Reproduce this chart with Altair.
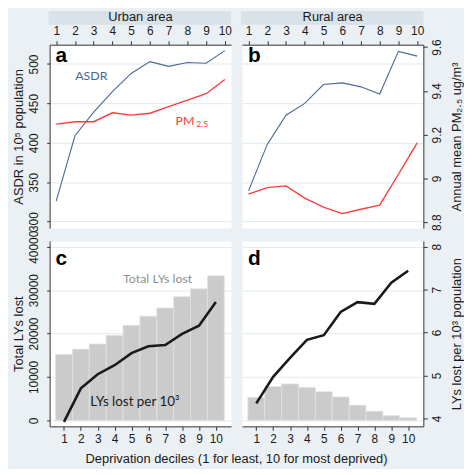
import altair as alt
import pandas as pd

# ---------------- data ----------------
deciles = [1, 2, 3, 4, 5, 6, 7, 8, 9, 10]
urban_asdr = [326, 409, 439, 465, 488, 503, 497, 502, 501, 517]
rural_asdr = [339, 398, 435, 450, 474, 476, 471, 462, 516, 510]
urban_pm25 = [9.248, 9.259, 9.259, 9.300, 9.289, 9.298, 9.328, 9.358, 9.387, 9.452]
rural_pm25 = [8.928, 8.958, 8.966, 8.910, 8.869, 8.839, 8.859, 8.878, 9.019, 9.162]
urban_total_lys = [15200, 16400, 17600, 19600, 21900, 24000, 25900, 28500, 30300, 33300]
rural_total_lys = [5300, 7800, 8400, 7600, 6600, 5400, 3500, 2100, 1100, 600]
urban_lys_rate = [3.92, 4.70, 5.03, 5.24, 5.52, 5.68, 5.71, 5.97, 6.16, 6.71]
rural_lys_rate = [4.35, 4.97, 5.41, 5.83, 5.94, 6.48, 6.71, 6.67, 7.16, 7.44]

asdr_ticks = [300, 350, 400, 450, 500]
pm_ticks = [8.8, 9.0, 9.2, 9.4, 9.6]
total_ticks = [0, 10000, 20000, 30000, 40000]
rate_ticks = [4, 5, 6, 7, 8]

area_names = ["Urban area", "Rural area"]
panel_letters = ["a", "b", "c", "d"]
x_title = "Deprivation deciles (1 for least, 10 for most deprived)"

# ---------------- styling ----------------
FONT = "Liberation Sans"
ANN_FONT = "Lato"
INK = "#1a1a1a"
BG = "#eaf0f3"
STRIP = "#d9e2e8"
GRID = "#e1e9ee"
BLUE = "#4a6893"
RED = "#ff3a3a"
BAR = "#cbcbcb"

W = 183
H_TOP = 185
H_BOT = 187
GAP_X = 11
TOP_X = [0.65, 10.33]
BOT_X = [0.15, 10.9]
ASDR_DOM = [291.8, 524.5]
PM_DOM = [8.773, 9.611]
TOT_DOM = [-1370, 41325]
RATE_DOM = [3.815, 8.134]


def frame(asdr, pm, total, rate):
    return pd.DataFrame({
        "decile": deciles,
        "lo": [d - 0.5 for d in deciles],
        "hi": [d + 0.5 for d in deciles],
        "asdr": asdr,
        "pm": pm,
        "total": total,
        "rate": rate,
    })


df_u = frame(urban_asdr, urban_pm25, urban_total_lys, urban_lys_rate)
df_r = frame(rural_asdr, rural_pm25, rural_total_lys, rural_lys_rate)


def left_axis(ticks, fmt, title, visible):
    if visible:
        return alt.Axis(orient="left", values=ticks, format=fmt, title=title,
                        grid=True, gridColor=GRID, labelAngle=270,
                        labelAlign="center", labelBaseline="bottom",
                        tickSize=3, labelPadding=6, minExtent=21, maxExtent=21,
                        titlePadding=3)
    return alt.Axis(orient="left", values=ticks, grid=True, gridColor=GRID,
                    labels=False, ticks=False, domain=False, title=None,
                    minExtent=0, maxExtent=0)


def right_axis(ticks, title):
    return alt.Axis(orient="right", values=ticks, format="~g", title=title,
                    grid=False, labelAngle=270, labelAlign="center",
                    labelBaseline="top", tickSize=4, labelPadding=4,
                    minExtent=21, maxExtent=21, titlePadding=6,
                    titleAngle=270, titleBaseline="top")


def text_layer(label, x, y, color, size, font=ANN_FONT, weight="normal",
               align="center"):
    return alt.Chart(pd.DataFrame({"t": [label]})).mark_text(
        font=font, fontSize=size, fontWeight=weight, color=color,
        align=align, baseline="alphabetic"
    ).encode(x=alt.value(x), y=alt.value(y), text="t:N")


def top_panel(df, strip_text, letter, left_vis, right_vis, notes):
    xs = alt.Scale(domain=TOP_X, nice=False, zero=False)
    xenc = alt.X("decile:Q", scale=xs,
                 axis=alt.Axis(orient="top", values=deciles, format="d",
                               title=None, grid=False, tickSize=4,
                               labelPadding=3))
    strip_bg = alt.Chart(pd.DataFrame({"t": [strip_text]})).mark_rect(
        color=STRIP).encode(x=alt.value(-1), x2=alt.value(W),
                            y=alt.value(-34), y2=alt.value(-20))
    strip_tx = text_layer(strip_text, W / 2, -23.5, INK, 13, font=FONT)
    asdr = alt.Chart(df).mark_line(color=BLUE, strokeWidth=1.1).encode(
        x=xenc,
        y=alt.Y("asdr:Q", scale=alt.Scale(domain=ASDR_DOM, nice=False, zero=False),
                axis=left_axis(asdr_ticks, "d", "ASDR in 10⁵ population", left_vis)))
    pm_axis = right_axis(pm_ticks, "Annual mean PM₂.₅ ug/m³") if right_vis else None
    pm = alt.Chart(df).mark_line(color=RED, strokeWidth=1.4).encode(
        x=xenc,
        y=alt.Y("pm:Q", scale=alt.Scale(domain=PM_DOM, nice=False, zero=False),
                axis=pm_axis))
    lay = [strip_bg, strip_tx, asdr, pm,
           text_layer(letter, 6, 17.3, "#000000", 21, font=FONT, weight="bold", align="left")]
    lay += notes
    return alt.layer(*lay).resolve_scale(y="independent").properties(width=W, height=H_TOP)


def bottom_panel(df, letter, left_vis, right_vis, notes):
    xs = alt.Scale(domain=BOT_X, nice=False, zero=False)
    xaxis = alt.Axis(orient="bottom", values=deciles, format="d", title=None,
                     grid=False, tickSize=4, labelPadding=3)
    bars = alt.Chart(df).mark_bar(color=BAR, stroke="#e2e2e2", strokeWidth=0.8).encode(
        x=alt.X("lo:Q", scale=xs, axis=xaxis),
        x2="hi:Q",
        y=alt.Y("total:Q", scale=alt.Scale(domain=TOT_DOM, nice=False, zero=False),
                axis=left_axis(total_ticks, "d", "Total LYs lost", left_vis)),
        y2=alt.datum(0))
    rate_axis = right_axis(rate_ticks, "LYs lost per 10³ population") if right_vis else None
    line = alt.Chart(df).mark_line(color=INK, strokeWidth=2.6).encode(
        x=alt.X("decile:Q", scale=xs, axis=xaxis),
        y=alt.Y("rate:Q", scale=alt.Scale(domain=RATE_DOM, nice=False, zero=False),
                axis=rate_axis))
    lay = [bars, line,
           text_layer(letter, 6, 24.3, "#000000", 21, font=FONT, weight="bold", align="left")]
    lay += notes
    return alt.layer(*lay).resolve_scale(y="independent").properties(width=W, height=H_BOT)


pa = top_panel(df_u, area_names[0], panel_letters[0], True, False, [
    text_layer("ASDR", 42, 35.3, BLUE, 12.5),
    text_layer("PM", 127, 80.7, RED, 12.5, align="left"),
    text_layer("2.5", 148, 83.5, RED, 8.5, align="left"),
])
pb = top_panel(df_r, area_names[1], panel_letters[1], False, True, [])
pc = bottom_panel(df_u, panel_letters[2], True, False, [
    text_layer("Total LYs lost", 109, 42.7, "#8f8f8f", 12.5),
    text_layer("LYs lost per 10³", 86, 166.7, INK, 13.5),
    text_layer(x_title, W + GAP_X / 2, H_BOT + 37, INK, 13, font=FONT),
])
pd_ = bottom_panel(df_r, panel_letters[3], False, True, [])

chart = alt.concat(
    pa, pb, pc, pd_, columns=2, spacing={"row": 13, "column": GAP_X}, bounds="flush",
).properties(
    padding={"left": 4, "top": 0, "right": 0, "bottom": 0}
).configure(
    background=BG, font=FONT
).configure_view(
    fill="white", stroke="transparent"
).configure_axis(
    labelFont=FONT, titleFont=FONT, labelFontSize=12, titleFontSize=13,
    labelColor=INK, titleColor=INK, titleFontWeight="normal",
    domainColor="#333333", tickColor="#333333", gridWidth=1
)

chart.save("out.html", embed_options={"renderer": "svg", "actions": False})
